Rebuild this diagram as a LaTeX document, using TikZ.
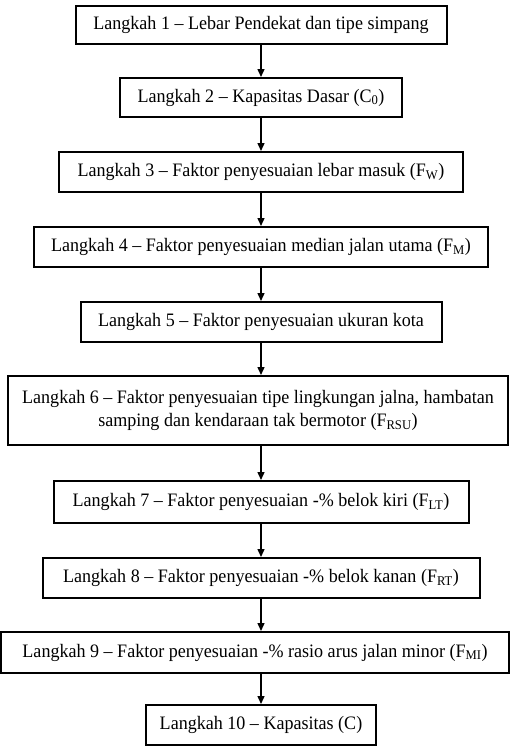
\documentclass[tikz,border=0pt]{standalone}
\usepackage{fontspec}
\setmainfont{Liberation Serif}[FakeStretch=0.95]
\usepackage{tikz}
\usetikzlibrary{arrows}
\usetikzlibrary{arrows.meta}

\begin{document}
\begin{tikzpicture}[x=1pt,y=-1pt]
\tikzset{>={Triangle[width=7pt,length=8pt]}}
\tikzstyle{langkah} =[draw, line width=2pt, inner xsep=2pt, inner ysep=0pt, minimum height=40pt, align=center, font=\fontsize{19}{23}\selectfont]
\tikzstyle{panah} =[->, line width=1.4pt]

\useasboundingbox (0,0) rectangle (509,747);

\node[langkah, minimum width=371pt, minimum height=38pt](l1) at (261,25){Langkah 1 -- Lebar Pendekat dan tipe simpang};
\node[langkah, minimum width=282pt, minimum height=39pt](l2) at (261,97.5){Langkah 2 -- Kapasitas Dasar (C\textsubscript{0})};
\node[langkah, minimum width=404pt](l3) at (261,172){Langkah 3 -- Faktor penyesuaian lebar masuk (F\textsubscript{W})};
\node[langkah, minimum width=454pt](l4) at (261,247){Langkah 4 -- Faktor penyesuaian median jalan utama (F\textsubscript{M})};
\node[langkah, minimum width=361pt](l5) at (261,322){Langkah 5 -- Faktor penyesuaian ukuran kota};
\node[langkah, minimum width=500pt, minimum height=69pt](l6) at (258,410.5){Langkah 6 -- Faktor penyesuaian tipe lingkungan jalna, hambatan\\ samping dan kendaraan tak bermotor (F\textsubscript{RSU})};
\node[langkah, minimum width=415pt, minimum height=42pt](l7) at (261,502){Langkah 7 -- Faktor penyesuaian -\% belok kiri (F\textsubscript{LT})};
\node[langkah, minimum width=437pt](l8) at (261,578){Langkah 8 -- Faktor penyesuaian -\% belok kanan (F\textsubscript{RT})};
\node[langkah, minimum width=508pt, minimum height=41pt](l9) at (255,652.5){Langkah 9 -- Faktor penyesuaian -\% rasio arus jalan minor (F\textsubscript{MI})};
\node[langkah, minimum width=230pt](l10) at (261,725){Langkah 10 -- Kapasitas (C)};

\draw[panah] (l1) -- (l2);
\draw[panah] (l2) -- (l3);
\draw[panah] (l3) -- (l4);
\draw[panah] (l4) -- (l5);
\draw[panah] (l5) -- (l5.south |- l6.north);
\draw[panah] (l6.south -| l7) -- (l7);
\draw[panah] (l7) -- (l8);
\draw[panah] (l8) -- (l8.south |- l9.north);
\draw[panah] (l9.south -| l10) -- (l10);
\end{tikzpicture}
\end{document}
